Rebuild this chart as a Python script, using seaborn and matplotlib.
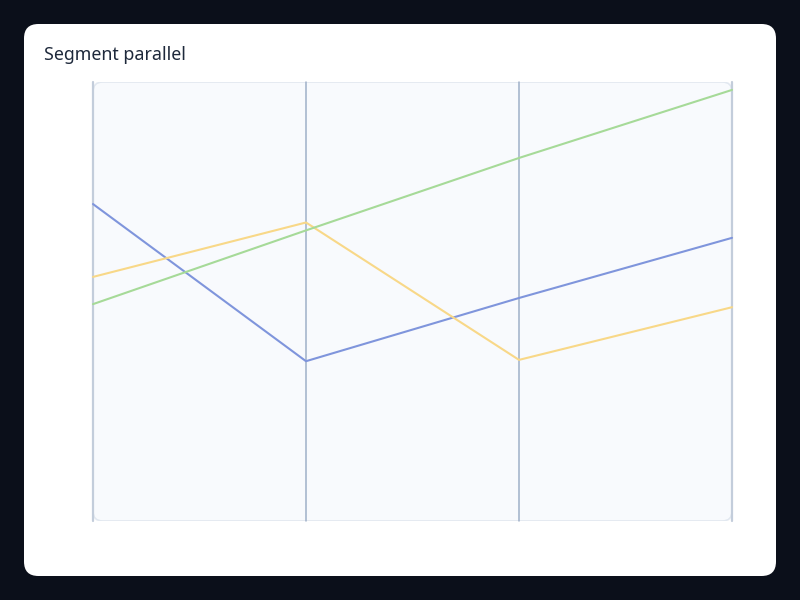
import pandas as pd
import matplotlib
matplotlib.use('Agg')
import matplotlib.pyplot as plt
import seaborn as sns
from matplotlib.patches import FancyBboxPatch

# values on a shared 0-100 scale, one per dimension axis
dimensions = ['d1', 'd2', 'd3', 'd4']
series_a = [72.2, 36.4, 50.8, 64.5]
series_b = [55.6, 68.0, 36.7, 48.7]
series_c = [49.4, 66.2, 82.7, 98.2]
series_names = ['A', 'B', 'C']
palette = {'A': '#7f95dc', 'B': '#f8d888', 'C': '#a6da98'}

rows = []
for name, vals in zip(series_names, [series_a, series_b, series_c]):
    for i, v in enumerate(vals):
        rows.append({'dim': i, 'value': v, 'series': name})
df = pd.DataFrame(rows)

sns.set_theme(style='white')
plt.rcParams['font.family'] = ['Noto Sans', 'DejaVu Sans']

fig = plt.figure(figsize=(8, 6), dpi=100)
fig.patch.set_facecolor('#0b0f1a')

# white card, kept below the axes
card = FancyBboxPatch((0.03, 0.04), 0.94, 0.92, boxstyle='round,pad=0,rounding_size=0.018',
                      transform=fig.transFigure, facecolor='white', edgecolor='none',
                      mutation_aspect=800 / 600, zorder=-10)
fig.patches.append(card)
fig.text(0.055, 0.908, 'Segment parallel', fontsize=12.8, color='#1e293b', va='center', ha='left')

ax = fig.add_axes([0.11625, 0.1317, 0.79875, 0.7316])
ax.patch.set_visible(False)
panel = FancyBboxPatch((0, 0), 1, 1, boxstyle='round,pad=0,rounding_size=0.015',
                       transform=ax.transAxes, facecolor='#f8fafd', edgecolor='#e2e8f0',
                       linewidth=1.2, zorder=0, mutation_aspect=639 / 439)
ax.add_patch(panel)

for i in range(len(dimensions)):
    outer = i in (0, len(dimensions) - 1)
    ax.axvline(i, color='#c3cddb' if outer else '#9fb0c8', linewidth=1.6 if outer else 1.1,
               zorder=1, clip_on=False)

sns.lineplot(data=df, x='dim', y='value', hue='series', palette=palette, linewidth=1.5,
             legend=False, ax=ax, zorder=2, estimator=None, sort=False)
for line in ax.lines:
    line.set_clip_on(False)

ax.set_xlim(0, len(dimensions) - 1)
ax.set_ylim(0, 100)
ax.set_xticks([])
ax.set_yticks([])
ax.set_xlabel('')
ax.set_ylabel('')
for s in ax.spines.values():
    s.set_visible(False)

fig.savefig('out.png', dpi=100, facecolor=fig.get_facecolor())
